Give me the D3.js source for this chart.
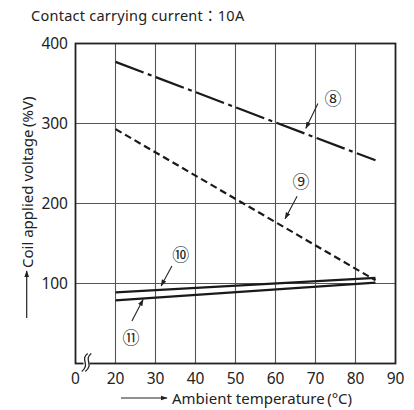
<!DOCTYPE html>
<html>
<head>
<meta charset="utf-8">
<script src="https://cdn.jsdelivr.net/npm/d3@7"></script>
<style>
  body { margin: 0; background: #fff; }
  text { font-family: "Noto Sans", "Noto Sans CJK JP", sans-serif; fill: #222; }
</style>
</head>
<body>
<div class="chart"></div>
<script>
// data
const temps = [20, 85]
const line8 = [377, 254]
const line9 = [293, 104]
const line10 = [89, 107]
const line11 = [79, 101]

const xTicks = [0, 20, 30, 40, 50, 60, 70, 80, 90]
const yTicks = [100, 200, 300, 400]
const xGrid = [20, 30, 40, 50, 60, 70, 80]
const yGrid = [100, 200, 300]

// callouts: label spot, arrow start, arrow end (data units)
const callouts = [
  { label: '⑧', at: [74.4, 331], from: [70.6, 325], to: [67.6, 294] },
  { label: '⑨', at: [66.4, 227], from: [65.4, 209], to: [62.4, 181] },
  { label: '⑩', at: [36.3, 136], from: [34.1, 122], to: [31.4, 97] },
  { label: '⑪', at: [23.9, 32], from: [24.1, 53], to: [26.9, 80] }
]

const width = 414
const height = 410

const svg = d3.select('.chart').append('svg')
  .attr('width', width).attr('height', height)

// broken axis: 0..20 squeezed into one grid step
const x = d3.scaleLinear().domain([0, 20, 90]).range([75.5, 115.5, 395.5])
const y = d3.scaleLinear().domain([0, 400]).range([363.5, 43.5])

svg.append('defs').append('marker')
  .attr('id', 'head')
  .attr('viewBox', '0 0 10 10')
  .attr('refX', 9).attr('refY', 5)
  .attr('markerWidth', 7).attr('markerHeight', 7)
  .attr('markerUnits', 'userSpaceOnUse')
  .attr('orient', 'auto')
  .append('path').attr('d', 'M0,1.5 L10,5 L0,8.5 Z').attr('fill', '#222')

// title
svg.append('text')
  .attr('x', 31).attr('y', 21)
  .attr('font-size', 14.5).attr('letter-spacing', 0.25)
  .text('Contact carrying current：10A')

// grid
svg.append('g').selectAll('line').data(xGrid).enter().append('line')
  .attr('x1', d => x(d)).attr('x2', d => x(d))
  .attr('y1', y(0)).attr('y2', y(400))
  .attr('stroke', '#555').attr('stroke-width', 1.1)

svg.append('g').selectAll('line').data(yGrid).enter().append('line')
  .attr('x1', x(0)).attr('x2', x(90))
  .attr('y1', d => y(d)).attr('y2', d => y(d))
  .attr('stroke', '#555').attr('stroke-width', 1.1)

// frame
svg.append('rect')
  .attr('x', x(0)).attr('y', y(400))
  .attr('width', x(90) - x(0)).attr('height', y(0) - y(400))
  .attr('fill', 'none').attr('stroke', '#222').attr('stroke-width', 1.8)

// axis break
const bx = x(0) + 11
const by = y(0)
svg.append('rect').attr('x', bx - 3).attr('y', by - 3).attr('width', 6).attr('height', 6).attr('fill', '#fff')
;[-1.8, 1.8].forEach(o => {
  svg.append('path')
    .attr('d', `M${bx + o + 3},${by - 10} C${bx + o - 5},${by - 4} ${bx + o + 6},${by + 1} ${bx + o - 3},${by + 8}`)
    .attr('fill', 'none').attr('stroke', '#222').attr('stroke-width', 1.3)
})

// tick labels
svg.append('g').selectAll('text').data(xTicks).enter().append('text')
  .attr('x', d => x(d)).attr('y', 383.5)
  .attr('text-anchor', 'middle').attr('font-size', 15.5)
  .text(d => d)

svg.append('g').selectAll('text').data(yTicks).enter().append('text')
  .attr('x', 68).attr('y', d => y(d)).attr('dy', '0.36em')
  .attr('text-anchor', 'end').attr('font-size', 15.5)
  .text(d => d)

// axis titles
svg.append('line')
  .attr('x1', 121).attr('x2', 167).attr('y1', 398).attr('y2', 398)
  .attr('stroke', '#222').attr('stroke-width', 1.2).attr('marker-end', 'url(#head)')
svg.append('text')
  .attr('x', 172).attr('y', 404).attr('font-size', 15)
  .text('Ambient temperature\u2009(°C)')

svg.append('line')
  .attr('x1', 26.7).attr('x2', 26.7).attr('y1', 318).attr('y2', 271)
  .attr('stroke', '#222').attr('stroke-width', 1.2).attr('marker-end', 'url(#head)')
svg.append('text')
  .attr('transform', 'translate(32.5,268) rotate(-90)')
  .attr('font-size', 15)
  .text('Coil applied voltage\u2009(%V)')

// curves
const line = d3.line().x(d => x(d[0])).y(d => y(d[1]))
const series = [
  { values: line8, dash: '30,4.5,4,4.5' },
  { values: line9, dash: '7,4' },
  { values: line10, dash: null },
  { values: line11, dash: null }
]
svg.append('g').selectAll('path').data(series).enter().append('path')
  .attr('d', d => line(temps.map((t, i) => [t, d.values[i]])))
  .attr('fill', 'none').attr('stroke', '#1a1a1a').attr('stroke-width', 2.2)
  .attr('stroke-dasharray', d => d.dash)

// callouts
const notes = svg.append('g')
notes.selectAll('line').data(callouts).enter().append('line')
  .attr('x1', d => x(d.from[0])).attr('y1', d => y(d.from[1]))
  .attr('x2', d => x(d.to[0])).attr('y2', d => y(d.to[1]))
  .attr('stroke', '#222').attr('stroke-width', 1.1).attr('marker-end', 'url(#head)')
notes.selectAll('text').data(callouts).enter().append('text')
  .attr('x', d => x(d.at[0])).attr('y', d => y(d.at[1])).attr('dy', '0.36em')
  .attr('text-anchor', 'middle').attr('font-size', 17)
  .style('font-family', '"Noto Sans CJK JP", "DejaVu Sans", sans-serif')
  .text(d => d.label)
</script>
</body>
</html>
